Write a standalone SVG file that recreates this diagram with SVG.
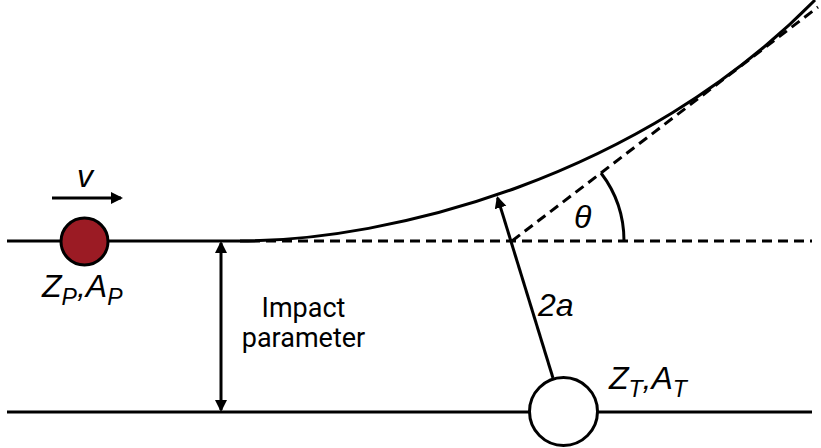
<svg xmlns="http://www.w3.org/2000/svg" width="821" height="448" viewBox="0 0 821 448">
<style>
.ln{stroke:#000;stroke-width:3;fill:none}
.dash{stroke:#000;stroke-width:3;fill:none;stroke-dasharray:10 6}
.lab{font-family:"Liberation Sans",Arial,sans-serif;font-style:italic;font-size:32px;fill:#000}
.sub{font-size:23px}
.txt{font-family:Roboto,"Liberation Sans",sans-serif;font-size:27px;fill:#000;text-anchor:middle}
</style>
<defs>
<marker id="ah" markerUnits="userSpaceOnUse" markerWidth="14" markerHeight="14" refX="10" refY="6" orient="auto">
<path d="M0,0 L12,6 L0,12 z" fill="#000"/>
</marker>
<marker id="ahs" markerUnits="userSpaceOnUse" markerWidth="14" markerHeight="14" refX="10" refY="6" orient="auto-start-reverse">
<path d="M0,0 L12,6 L0,12 z" fill="#000"/>
</marker>
</defs>
<g id="connectors">
<line class="ln" x1="7" y1="241" x2="250" y2="241"/>
<line class="dash" x1="250" y1="241" x2="812" y2="241"/>
<line class="ln" x1="7" y1="412" x2="812" y2="412"/>
<path class="ln" d="M240,241 C390,241 640,178 815,0"/>
<line class="dash" x1="512" y1="241" x2="818" y2="7"/>
<path class="ln" d="M624,241 A112,112 0 0 0 601,173"/>
<line class="ln" x1="52" y1="198" x2="121" y2="198" marker-end="url(#ah)"/>
<line class="ln" x1="221" y1="243" x2="221" y2="410" marker-start="url(#ahs)" marker-end="url(#ah)"/>
<line class="ln" x1="553" y1="378" x2="497.6" y2="197.9" marker-end="url(#ah)"/>
</g>
<g id="projectile">
<circle cx="84.5" cy="241.5" r="23.5" fill="#9B1B24" stroke="#000" stroke-width="3"/>
<text class="lab" x="42" y="297">Z<tspan class="sub" dy="8">P</tspan><tspan dy="-8">,A</tspan><tspan class="sub" dy="8">P</tspan></text>
</g>
<g id="velocity">
<text class="lab" x="77" y="187">v</text>
</g>
<g id="target">
<circle cx="563.5" cy="411.5" r="34" fill="#fff" stroke="#000" stroke-width="3"/>
<text class="lab" x="609" y="389">Z<tspan class="sub" dy="8">T</tspan><tspan dy="-8">,A</tspan><tspan class="sub" dy="8">T</tspan></text>
</g>
<g id="impact-label">
<text class="txt" x="303.5" y="317">Impact</text>
<text class="txt" x="303.5" y="347">parameter</text>
</g>
<g id="labels">
<text class="lab" x="538" y="316">2a</text>
<text class="lab" x="574" y="228">θ</text>
</g>
</svg>
